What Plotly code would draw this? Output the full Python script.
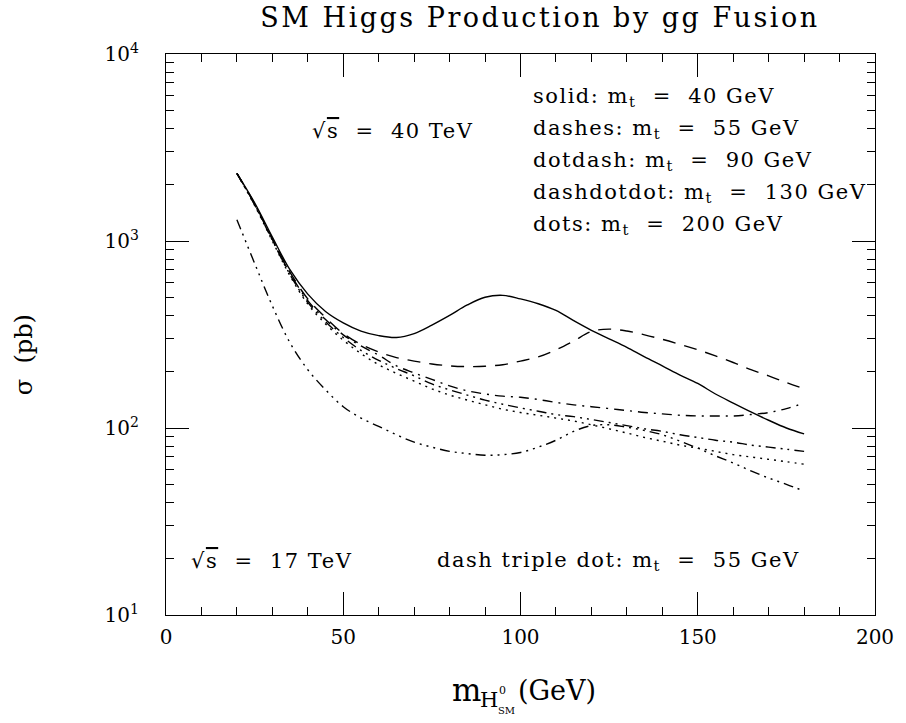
import plotly.graph_objects as go

# Higgs mass (GeV)
mass = [20, 25, 30, 35, 40, 45, 50, 55, 60, 65, 70, 75, 80, 85, 90, 95, 100,
        105, 110, 115, 120, 125, 130, 135, 140, 145, 150, 155, 160, 165, 170, 175, 180]

# sqrt(s) = 40 TeV curves (pb)
sigma_mt40 = [2300, 1600, 1050, 700, 520, 420, 365, 330, 312, 305, 320, 355, 400, 455, 500, 512, 490,
              462, 425, 375, 333, 300, 270, 240, 215, 192, 173, 152, 136, 122, 110, 100, 93]
sigma_mt55 = [2300, 1580, 1030, 680, 490, 390, 320, 280, 255, 238, 228, 220, 215, 213, 214, 218, 228,
              240, 262, 292, 328, 338, 330, 315, 298, 280, 262, 243, 224, 205, 190, 175, 162]
sigma_mt90 = [2300, 1570, 1020, 670, 480, 380, 315, 275, 245, 215, 197, 182, 168, 158, 152, 148, 146,
              142, 137, 133, 130, 127, 124, 121, 119, 117, 116, 116, 116, 118, 121, 127, 136]
sigma_mt130 = [2300, 1560, 1010, 660, 470, 370, 305, 260, 230, 208, 190, 172, 160, 150, 141, 134, 128,
               123, 118, 115, 111, 107, 103, 99, 96, 92, 89, 86, 84, 81, 79, 77, 75]
sigma_mt200 = [2300, 1550, 1000, 650, 460, 360, 295, 250, 218, 196, 178, 162, 150, 141, 133, 126, 121,
               117, 113, 109, 104, 99, 94, 89, 85, 81, 78, 75, 72, 70, 68, 66, 64]
# sqrt(s) = 17 TeV, mt = 55 GeV
sigma_17_mt55 = [1300, 760, 450, 285, 205, 160, 130, 113, 102, 92, 84, 79, 75, 73, 71.5, 72, 74,
                 79, 86, 96, 103, 104, 101, 97, 92, 85, 78, 71, 65, 59, 54, 50, 46]

series = [
    (sigma_mt40, "solid"),
    (sigma_mt55, "13px,9px"),
    (sigma_mt90, "10px,6px,2px,6px"),
    (sigma_mt130, "10px,5px,2px,5px,2px,5px"),
    (sigma_mt200, "2px,5px"),
    (sigma_17_mt55, "10px,5px,2px,5px,2px,5px,2px,5px"),
]

EQ = "\u00a0\u00a0=\u00a0\u00a0"
legend_lines = [
    "solid: m<sub>t</sub>" + EQ + "40 GeV",
    "dashes: m<sub>t</sub>" + EQ + "55 GeV",
    "dotdash: m<sub>t</sub>" + EQ + "90 GeV",
    "dashdotdot: m<sub>t</sub>" + EQ + "130 GeV",
    "dots: m<sub>t</sub>" + EQ + "200 GeV",
]
legend_logy = [3.770, 3.599, 3.428, 3.257, 3.086]

x_ticks = [0, 50, 100, 150, 200]
y_ticks = [10, 100, 1000, 10000]
y_ticktext = ["10<sup>1</sup>", "10<sup>2</sup>", "10<sup>3</sup>", "10<sup>4</sup>"]

FONT = "DejaVu Serif"
L, R, T, B = 166, 886, 54, 615
W, H = 906, 723


def px(x):
    return (x - L) / (R - L)


def py(y):
    return (B - y) / (B - T)


def spaced(text, ls=1.5):
    return "<span style='letter-spacing:%spx'>%s</span>" % (ls, text)


fig = go.Figure()
for ys, dash in series:
    fig.add_trace(go.Scatter(x=mass, y=ys, mode="lines",
                             line=dict(color="black", width=1.4, dash=dash, shape="spline")))

TF = dict(family=FONT, size=21, color="black")
annots = []
for txt, ly in zip(legend_lines, legend_logy):
    annots.append(dict(x=103, y=ly, xref="x", yref="y", text=spaced(txt), showarrow=False,
                       xanchor="left", yanchor="middle", font=TF))
SQRT_S = "\u221a<span style='text-decoration:overline'>s</span>"
annots.append(dict(x=40.5, y=3.59, xref="x", yref="y", text=spaced(SQRT_S + EQ + "40 TeV"),
                   showarrow=False, xanchor="left", yanchor="middle", font=TF))
annots.append(dict(x=6.5, y=1.289, xref="x", yref="y", text=spaced(SQRT_S + EQ + "17 TeV"),
                   showarrow=False, xanchor="left", yanchor="middle", font=TF))
annots.append(dict(x=76, y=1.289, xref="x", yref="y",
                   text=spaced("dash triple dot: m<sub>t</sub>" + EQ + "55 GeV"),
                   showarrow=False, xanchor="left", yanchor="middle", font=TF))
# y axis title
annots.append(dict(x=px(22), y=py(355), xref="paper", yref="paper", text="\u03c3\u00a0\u00a0(pb)",
                   showarrow=False, textangle=-90, xanchor="center", yanchor="middle",
                   font=dict(family=FONT, size=24, color="black")))
# x axis title pieces: m_{H^0_SM} (GeV)
XT = 454
annots.append(dict(x=px(XT), y=py(690), xref="paper", yref="paper", text="m", showarrow=False,
                   xanchor="left", yanchor="middle", font=dict(family=FONT, size=31, color="black")))
annots.append(dict(x=px(XT + 29), y=py(700), xref="paper", yref="paper", text="H", showarrow=False,
                   xanchor="left", yanchor="middle", font=dict(family=FONT, size=21, color="black")))
annots.append(dict(x=px(XT + 48), y=py(690), xref="paper", yref="paper", text="0", showarrow=False,
                   xanchor="left", yanchor="middle", font=dict(family=FONT, size=11, color="black")))
annots.append(dict(x=px(XT + 47), y=py(710), xref="paper", yref="paper", text="SM", showarrow=False,
                   xanchor="left", yanchor="middle", font=dict(family=FONT, size=10, color="black")))
annots.append(dict(x=px(XT + 67), y=py(690), xref="paper", yref="paper", text="(GeV)", showarrow=False,
                   xanchor="left", yanchor="middle", font=dict(family=FONT, size=27, color="black")))

fig.update_layout(
    width=W, height=H,
    margin=dict(l=L, r=W - R, t=T, b=H - B),
    paper_bgcolor="white", plot_bgcolor="white",
    showlegend=False,
    title=dict(text=spaced("SM Higgs Production by gg Fusion", 2.5), x=540 / W, xanchor="center",
               y=1 - 18 / H, yanchor="middle",
               font=dict(family=FONT, size=27, color="black")),
    annotations=annots,
    font=dict(family=FONT, color="black"),
)
fig.update_xaxes(range=[0, 200], tickvals=x_ticks, ticks="inside", ticklen=23, tickwidth=1.2,
                 tickcolor="black", showline=True, linecolor="black", linewidth=1.4, mirror="ticks",
                 showgrid=False, zeroline=False, tickfont=dict(family=FONT, size=20),
                 ticklabelstandoff=4, ticklabeloverflow="allow",
                 minor=dict(ticks="inside", ticklen=8, dtick=10, tickcolor="black", tickwidth=1, showgrid=False))
fig.update_yaxes(type="log", range=[1, 4], tickvals=y_ticks, ticktext=y_ticktext, ticks="inside", ticklen=23,
                 tickwidth=1.2, tickcolor="black", showline=True, linecolor="black", linewidth=1.4,
                 mirror="ticks", showgrid=False, zeroline=False, tickfont=dict(family=FONT, size=20),
                 ticklabelstandoff=22,
                 minor=dict(ticks="inside", ticklen=8, dtick="D1", tickcolor="black", tickwidth=1, showgrid=False))

fig.write_html("out.html")
